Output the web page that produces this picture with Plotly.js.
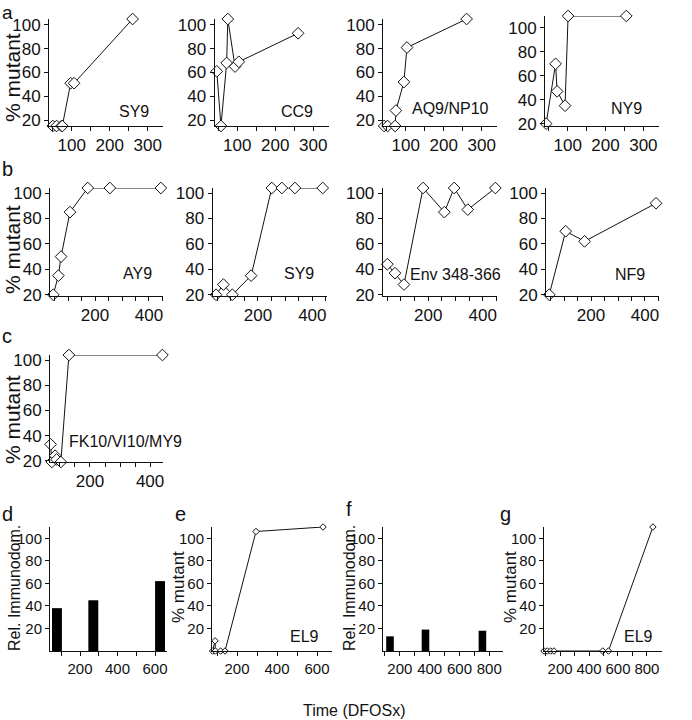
<!DOCTYPE html>
<html>
<head>
<meta charset="utf-8">
<script src="https://cdn.plot.ly/plotly-3.0.1.min.js"></script>
<style>
  body { margin: 0; background: #fff; }
  #plot { width: 692px; height: 720px; }
</style>
</head>
<body>
<div id="plot"></div>
<script>
// values (time in DFOSx, % mutant / rel. immunodominance)

// row a
const aSY9x = [50, 60, 73, 75, 97, 106, 260];
const aSY9y = [15, 15, 15, 15, 51, 51, 105];
const aCC9x = [46, 57, 72, 75, 94, 104, 260];
const aCC9y = [61, 15, 68, 105, 65, 69, 93];
const aAQ9x = [43, 52, 72, 74, 95, 103, 260];
const aAQ9y = [15, 15, 15, 28, 52, 81, 105];
const aNY9x = [43, 68, 72, 93, 101, 255];
const aNY9y = [20, 70, 47, 35, 110, 110];

// row b
const bAY9x = [45, 64, 74, 107, 173, 255, 444];
const bAY9y = [20, 35, 50, 85, 104, 104, 104];
const bSY9x = [46, 73, 106, 175, 251, 288, 336, 438];
const bSY9y = [20, 28, 20, 35, 104, 104, 104, 104];
const bEnvx = [50, 78, 111, 181, 259, 295, 345, 446];
const bEnvy = [44, 37, 28, 104, 85, 104, 87, 104];
const bNF9x = [45, 106, 176, 441];
const bNF9y = [20, 70, 62, 92];

// row c
const cFKx = [69, 73, 84, 89, 103, 130, 441];
const cFKy = [33, 19, 24, 21, 19, 104, 104];

// rows d-g
const dBarX = [77, 271, 627];
const dBarY = [38, 45, 62];
const eEL9x = [78, 90, 92, 118, 140, 295, 630];
const eEL9y = [0, 9, 0, 0, 0, 106, 110];
const fBarX = [134, 372, 754];
const fBarY = [13, 19, 18];
const gEL9x = [89, 112, 135, 158, 495, 534, 841];
const gEL9y = [0, 0, 0, 0, 0, 0, 110];

// ticks
const yTicks = [20, 40, 60, 80, 100];
const ticksA = [50, 100, 150, 200, 250, 300];
const labelsA = ['', '100', '', '200', '', '300'];
const ticksB = [50, 100, 150, 200, 250, 300, 350, 400, 450];
const labelsB = ['', '', '', '200', '', '', '', '400', ''];
const ticksD = [100, 200, 300, 400, 500, 600];
const labelsD = ['', '200', '', '400', '', '600'];
const ticksF = [100, 200, 300, 400, 500, 600, 700, 800];
const labelsF = ['', '200', '', '400', '', '600', '', '800'];

const W = 692, H = 720;
const FONT = 'Liberation Sans, Arial, Helvetica, sans-serif';
const INK = '#111';

// panel boxes in pixels: left, right, top, bottom
const panels = [
  {box: [49, 163, 19, 126], xr: [40, 340], yr: [15, 105], xt: ticksA, xl: labelsA, x: aSY9x, y: aSY9y, label: 'SY9', lx: 134, ly: 111},
  {box: [214.5, 328.5, 19, 126], xr: [40, 340], yr: [15, 105], xt: ticksA, xl: labelsA, x: aCC9x, y: aCC9y, label: 'CC9', lx: 297, ly: 111},
  {box: [383, 497, 19, 126], xr: [40, 340], yr: [15, 105], xt: ticksA, xl: labelsA, x: aAQ9x, y: aAQ9y, label: 'AQ9/NP10', lx: 450, ly: 108},
  {box: [545, 658.5, 16, 126], xr: [40, 340], yr: [18, 110], xt: ticksA, xl: labelsA, x: aNY9x, y: aNY9y, label: 'NY9', lx: 626, ly: 108},
  {box: [50, 163, 188, 296], xr: [33, 452], yr: [19, 104], xt: ticksB, xl: labelsB, x: bAY9x, y: bAY9y, label: 'AY9', lx: 137, ly: 273},
  {box: [212.5, 326.5, 188, 296], xr: [33, 452], yr: [19, 104], xt: ticksB, xl: labelsB, x: bSY9x, y: bSY9y, label: 'SY9', lx: 299, ly: 273},
  {box: [382.7, 497, 188, 296], xr: [33, 452], yr: [19, 104], xt: ticksB, xl: labelsB, x: bEnvx, y: bEnvy, label: 'Env 348-366', lx: 455, ly: 274},
  {box: [546, 659, 188, 296], xr: [33, 452], yr: [19, 104], xt: ticksB, xl: labelsB, x: bNF9x, y: bNF9y, label: 'NF9', lx: 630, ly: 274},
  {box: [50, 163, 355, 462], xr: [67, 443], yr: [19, 104], xt: ticksB, xl: labelsB, x: cFKx, y: cFKy, label: 'FK10/VI10/MY9', lx: 125, ly: 441},
  {box: [50, 167, 527, 651], xr: [40, 664], yr: [0, 110], xt: ticksD, xl: labelsD, x: dBarX, y: dBarY, bar: 53, fs: 15},
  {box: [212, 332, 527, 651], xr: [75, 675], yr: [0, 110], xt: ticksD, xl: labelsD, x: eEL9x, y: eEL9y, small: true, fs: 15, label: 'EL9', lx: 304, ly: 636},
  {box: [383, 503, 527, 651], xr: [87, 892], yr: [0, 110], xt: ticksF, xl: labelsF, x: fBarX, y: fBarY, bar: 51, fs: 15},
  {box: [544, 662, 527, 651], xr: [89, 904], yr: [0, 110], xt: ticksF, xl: labelsF, x: gEL9x, y: gEL9y, small: true, fs: 15, label: 'EL9', lx: 638, ly: 636}
];

const layout = {
  width: W, height: H,
  margin: {l: 0, r: 0, t: 0, b: 0},
  paper_bgcolor: '#fff', plot_bgcolor: 'rgba(0,0,0,0)',
  showlegend: false,
  font: {family: FONT, color: INK},
  annotations: []
};
const data = [];

function px(x) { return x / W; }
function py(y) { return 1 - y / H; }

function note(text, x, y, size, extra) {
  layout.annotations.push(Object.assign({
    text: text, xref: 'paper', yref: 'paper', x: px(x), y: py(y),
    showarrow: false, xanchor: 'center', yanchor: 'middle',
    font: {family: FONT, size: size, color: INK}
  }, extra || {}));
}

panels.forEach((p, i) => {
  const n = i === 0 ? '' : String(i + 1);
  const axBase = {
    showline: true, linecolor: INK, linewidth: 1, showgrid: false, zeroline: false,
    ticks: 'outside', tickcolor: INK, tickwidth: 1, fixedrange: true,
    tickfont: {family: FONT, size: p.fs || 17, color: INK}
  };
  layout['xaxis' + n] = Object.assign({}, axBase, {
    domain: [px(p.box[0]), px(p.box[1])], range: p.xr, anchor: 'y' + n,
    tickmode: 'array', tickvals: p.xt, ticktext: p.xl, ticklen: 4, tickangle: 0
  });
  layout['yaxis' + n] = Object.assign({}, axBase, {
    domain: [py(p.box[3]), py(p.box[2])], range: p.yr, anchor: 'x' + n,
    tickmode: 'array', tickvals: yTicks, ticklen: 4
  });

  if (p.bar) {
    data.push({
      type: 'bar', x: p.x, y: p.y, width: p.bar, xaxis: 'x' + n, yaxis: 'y' + n,
      marker: {color: '#000', line: {width: 0}}, hoverinfo: 'skip'
    });
  } else {
    data.push({
      type: 'scatter', mode: 'lines+markers', x: p.x, y: p.y, xaxis: 'x' + n, yaxis: 'y' + n,
      cliponaxis: false,
      line: {color: INK, width: 1},
      marker: {symbol: 'diamond', size: p.small ? 5 : 9, color: '#fff', line: {color: INK, width: 1}},
      hoverinfo: 'skip'
    });
  }
  if (p.label) note(p.label, p.lx, p.ly, 16);
});

// axis titles
note('% mutant', 12, 78, 21, {textangle: -90});
note('% mutant', 12, 250, 21, {textangle: -90});
note('% mutant', 12, 420, 21, {textangle: -90});
note('Rel. Immunodom.', 14, 588, 16, {textangle: -90});
note('% mutant', 178, 587, 17, {textangle: -90});
note('Rel. Immunodom.', 349, 588, 16, {textangle: -90});
note('% mutant', 510, 587, 17, {textangle: -90});
note('Time (DFOSx)', 354, 710, 16);

// panel letters
note('a', 0, 0, 19, {xanchor: 'left', yanchor: 'top'});
note('b', 0, 169, 20, {xanchor: 'left'});
note('c', 0, 336, 20, {xanchor: 'left'});
note('d', 0, 514, 20, {xanchor: 'left'});
note('e', 173, 514, 20, {xanchor: 'left'});
note('f', 344, 509, 20, {xanchor: 'left'});
note('g', 498, 514, 20, {xanchor: 'left'});

Plotly.newPlot('plot', data, layout, {staticPlot: true});
</script>
</body>
</html>
